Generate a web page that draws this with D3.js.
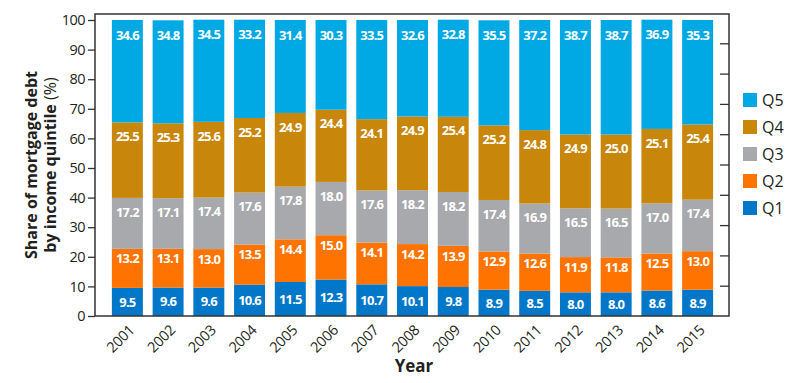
<!DOCTYPE html>
<html>
<head>
<meta charset="utf-8">
<script src="https://cdn.jsdelivr.net/npm/d3@7"></script>
<style>
  body { margin: 0; background: #fff; }
  svg text { font-family: "Open Sans", "Noto Sans", sans-serif; }
</style>
</head>
<body>
<div id="chart"></div>
<script>
const years = ["2001", "2002", "2003", "2004", "2005", "2006", "2007", "2008", "2009", "2010", "2011", "2012", "2013", "2014", "2015"];
const quintiles = ["Q1", "Q2", "Q3", "Q4", "Q5"];
const q1 = [9.5, 9.6, 9.6, 10.6, 11.5, 12.3, 10.7, 10.1, 9.8, 8.9, 8.5, 8.0, 8.0, 8.6, 8.9];
const q2 = [13.2, 13.1, 13.0, 13.5, 14.4, 15.0, 14.1, 14.2, 13.9, 12.9, 12.6, 11.9, 11.8, 12.5, 13.0];
const q3 = [17.2, 17.1, 17.4, 17.6, 17.8, 18.0, 17.6, 18.2, 18.2, 17.4, 16.9, 16.5, 16.5, 17.0, 17.4];
const q4 = [25.5, 25.3, 25.6, 25.2, 24.9, 24.4, 24.1, 24.9, 25.4, 25.2, 24.8, 24.9, 25.0, 25.1, 25.4];
const q5 = [34.6, 34.8, 34.5, 33.2, 31.4, 30.3, 33.5, 32.6, 32.8, 35.5, 37.2, 38.7, 38.7, 36.9, 35.3];
const yTicks = [0, 10, 20, 30, 40, 50, 60, 70, 80, 90, 100];

const colors = { Q1: "#0077c8", Q2: "#ff7300", Q3: "#a7a9ac", Q4: "#c8860a", Q5: "#00a8e4" };
// label offset below the segment top (null = centred)
const labelOffset = { Q1: null, Q2: 10, Q3: 14, Q4: 14, Q5: 15 };

const width = 804, height = 383;
const plot = { left: 95, right: 729, top: 14, bottom: 316 };

const rows = years.map((yr, i) => ({ year: yr, Q1: q1[i], Q2: q2[i], Q3: q3[i], Q4: q4[i], Q5: q5[i] }));
const series = d3.stack().keys(quintiles)(rows);

const svg = d3.select("#chart").append("svg")
    .attr("width", width)
    .attr("height", height);

const x = d3.scaleBand()
    .domain(years)
    .range([107, 718])
    .paddingInner(0.24)
    .paddingOuter(0.12);

const y = d3.scaleLinear()
    .domain([0, 100])
    .range([plot.bottom, 20]);

// right-hand ticks were drawn on a slightly different spacing
const yRight = d3.scaleLinear()
    .domain([0, 100])
    .range([plot.bottom, 13]);

// bars
const layer = svg.append("g").selectAll("g")
    .data(series)
    .join("g")
    .attr("fill", s => colors[s.key]);

layer.selectAll("rect")
    .data(s => s)
    .join("rect")
    .attr("x", d => x(d.data.year))
    .attr("y", d => y(d[1]))
    .attr("width", x.bandwidth())
    .attr("height", d => y(d[0]) - y(d[1]));

// value labels
const labels = svg.append("g").selectAll("g")
    .data(series)
    .join("g");

labels.selectAll("text")
    .data(s => s.map(d => ({ d, key: s.key })))
    .join("text")
    .attr("x", o => x(o.d.data.year) + x.bandwidth() / 2)
    .attr("y", o => {
        const off = labelOffset[o.key];
        if (off === null) return (y(o.d[0]) + y(o.d[1])) / 2;
        return y(o.d[1]) + off;
    })
    .attr("dy", "0.36em")
    .attr("text-anchor", "middle")
    .attr("fill", "#fff")
    .attr("font-size", "13px")
    .attr("font-weight", "bold")
    .attr("letter-spacing", "-0.8px")
    .text(o => (o.d[1] - o.d[0]).toFixed(1));

// frame
svg.append("path")
    .attr("fill", "none")
    .attr("stroke", "#333")
    .attr("stroke-width", 1.5)
    .attr("d", `M${plot.left},${plot.bottom}V${plot.top}H${plot.right}V${plot.bottom}Z`);

// left axis
const yAxis = svg.append("g")
    .attr("transform", `translate(${plot.left},0)`)
    .call(d3.axisLeft(y).tickValues(yTicks).tickSize(7).tickPadding(3));
yAxis.select(".domain").remove();
yAxis.selectAll("line").attr("stroke", "#333").attr("stroke-width", 1.3);
yAxis.selectAll("text")
    .attr("fill", "#231f20")
    .attr("font-size", "14.5px")
    .attr("letter-spacing", "-0.5px")
    .style("font-family", "'Open Sans', sans-serif");

// right axis (ticks pointing inward, no labels)
const yAxisR = svg.append("g")
    .attr("transform", `translate(${plot.right},0)`)
    .call(d3.axisLeft(yRight).tickValues(yTicks.slice(1, -1)).tickSize(9).tickFormat(""));
yAxisR.select(".domain").remove();
yAxisR.selectAll("line").attr("stroke", "#333").attr("stroke-width", 1.3);

// x tick labels
const xAxis = svg.append("g")
    .attr("transform", `translate(0,${plot.bottom})`)
    .call(d3.axisBottom(x).tickSize(0).tickPadding(0));
xAxis.select(".domain").remove();
xAxis.selectAll("text")
    .attr("text-anchor", "end")
    .attr("dy", null)
    .attr("y", 0)
    .attr("transform", "translate(8,15) rotate(-45)")
    .attr("fill", "#231f20")
    .attr("font-size", "14.5px")
    .attr("letter-spacing", "-0.3px")
    .style("font-family", "'Open Sans', sans-serif");

// axis titles
svg.append("text")
    .attr("x", 414)
    .attr("y", 372)
    .attr("text-anchor", "middle")
    .attr("font-size", "17px")
    .attr("font-weight", "bold")
    .attr("fill", "#231f20")
    .text("Year");

const yTitle = svg.append("text")
    .attr("transform", "translate(0,165) rotate(-90)")
    .attr("text-anchor", "middle")
    .attr("font-size", "16px")
    .attr("font-weight", "bold")
    .attr("fill", "#231f20");
yTitle.append("tspan").attr("x", 0).attr("y", 37).text("Share of mortgage debt");
const line2 = yTitle.append("tspan").attr("x", 0).attr("y", 56);
line2.append("tspan").text("by income quintile ");
line2.append("tspan").attr("font-weight", "normal").text("(%)");

// legend
const legend = svg.append("g")
    .attr("transform", "translate(743,93)")
    .selectAll("g")
    .data(quintiles.slice().reverse())
    .join("g")
    .attr("transform", (d, i) => `translate(0,${i * 27})`);

legend.append("rect")
    .attr("width", 14)
    .attr("height", 14)
    .attr("fill", d => colors[d]);

legend.append("text")
    .attr("x", 19)
    .attr("y", 7)
    .attr("dy", "0.36em")
    .attr("font-size", "16px")
    .attr("fill", "#231f20")
    .text(d => d);
</script>
</body>
</html>
